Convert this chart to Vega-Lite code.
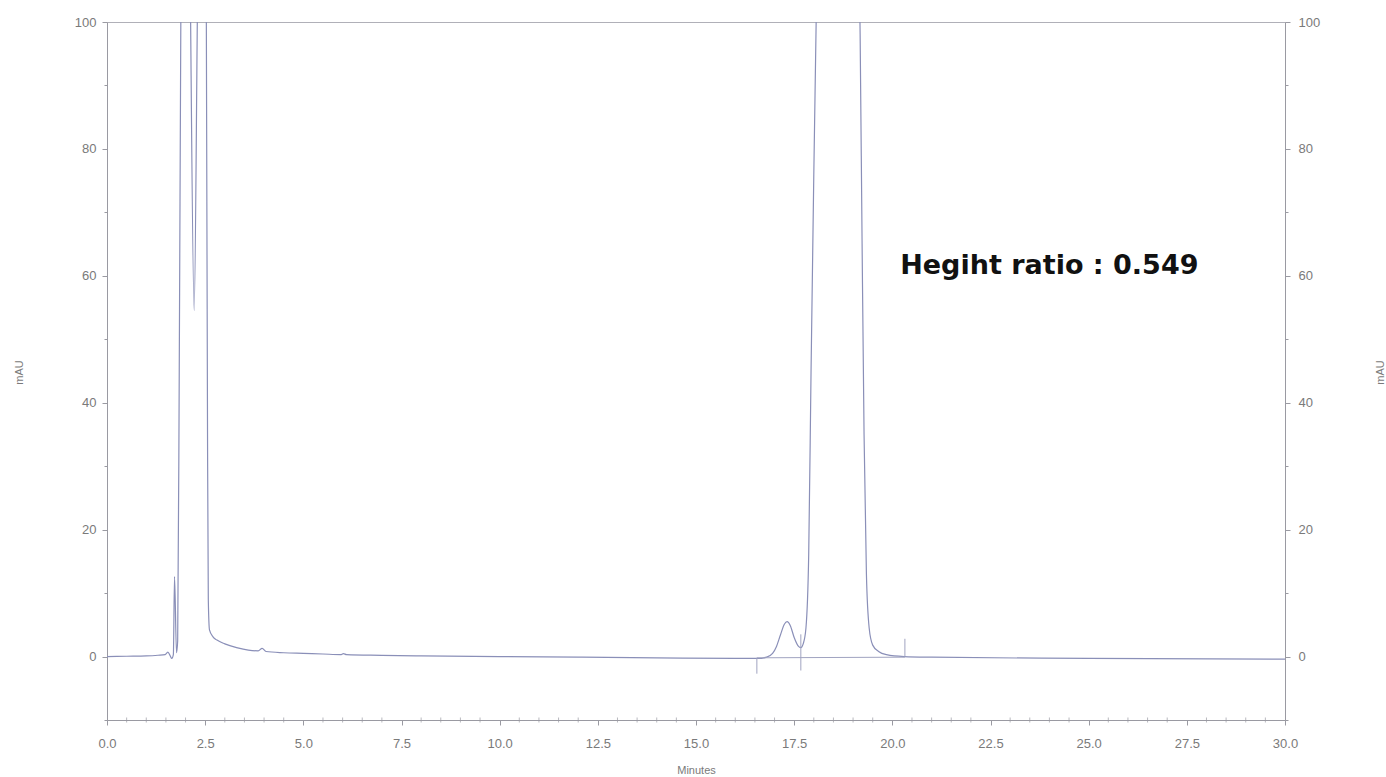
{
  "$schema": "https://vega.github.io/schema/vega-lite/v6.json",
  "width": 1178,
  "height": 698,
  "autosize": "none",
  "padding": {"left": 107, "top": 22, "right": 101, "bottom": 57},
  "background": "white",
  "config": {
    "view": {"stroke": "#b0b0b8", "strokeWidth": 1},
    "axis": {
      "domainColor": "#9a9aa2",
      "tickColor": "#9a9aa2",
      "labelColor": "#7a7a7a",
      "titleColor": "#7a7a7a",
      "labelFont": "Liberation Sans",
      "titleFont": "Liberation Sans",
      "labelFontSize": 13,
      "titleFontSize": 11,
      "titleFontWeight": "normal",
      "grid": false
    }
  },
  "datasets": {
    "trace": [
      {"t": 0.0, "v": 0.0}, {"t": 0.5, "v": 0.05}, {"t": 1.0, "v": 0.1}, {"t": 1.3, "v": 0.2},
      {"t": 1.48, "v": 0.3}, {"t": 1.55, "v": 0.7}, {"t": 1.61, "v": 0.1}, {"t": 1.65, "v": -0.3},
      {"t": 1.69, "v": 0.3}, {"t": 1.72, "v": 12.6}, {"t": 1.77, "v": 0.6}, {"t": 1.8, "v": 2.5},
      {"t": 1.84, "v": 45}, {"t": 1.88, "v": 100}, {"t": 1.92, "v": 140}, {"t": 2.08, "v": 140},
      {"t": 2.13, "v": 100}, {"t": 2.22, "v": 54.5}, {"t": 2.3, "v": 100}, {"t": 2.36, "v": 140},
      {"t": 2.48, "v": 140}, {"t": 2.53, "v": 100}, {"t": 2.56, "v": 35}, {"t": 2.58, "v": 9},
      {"t": 2.61, "v": 4.2}, {"t": 2.7, "v": 3.1}, {"t": 2.8, "v": 2.6}, {"t": 3.0, "v": 2.0},
      {"t": 3.3, "v": 1.4}, {"t": 3.6, "v": 1.0}, {"t": 3.85, "v": 0.9}, {"t": 3.95, "v": 1.3},
      {"t": 4.05, "v": 0.8}, {"t": 4.5, "v": 0.6}, {"t": 5.0, "v": 0.5}, {"t": 5.5, "v": 0.4},
      {"t": 5.95, "v": 0.3}, {"t": 6.02, "v": 0.45}, {"t": 6.1, "v": 0.3}, {"t": 7.0, "v": 0.2},
      {"t": 8.0, "v": 0.1}, {"t": 10.0, "v": 0.0}, {"t": 12.0, "v": -0.1}, {"t": 14.0, "v": -0.2},
      {"t": 16.0, "v": -0.3}, {"t": 16.6, "v": -0.3}, {"t": 16.8, "v": -0.1}, {"t": 16.95, "v": 0.5},
      {"t": 17.05, "v": 1.6}, {"t": 17.15, "v": 3.4}, {"t": 17.25, "v": 5.1}, {"t": 17.32, "v": 5.5},
      {"t": 17.4, "v": 4.9}, {"t": 17.5, "v": 3.0}, {"t": 17.6, "v": 1.7}, {"t": 17.67, "v": 1.4},
      {"t": 17.73, "v": 2.0}, {"t": 17.8, "v": 4.5}, {"t": 17.87, "v": 16}, {"t": 17.93, "v": 45},
      {"t": 18.0, "v": 76}, {"t": 18.06, "v": 100}, {"t": 18.14, "v": 135}, {"t": 18.3, "v": 150},
      {"t": 19.0, "v": 150}, {"t": 19.12, "v": 125}, {"t": 19.18, "v": 98}, {"t": 19.23, "v": 65},
      {"t": 19.28, "v": 35}, {"t": 19.34, "v": 13}, {"t": 19.41, "v": 4.5}, {"t": 19.5, "v": 1.8},
      {"t": 19.65, "v": 0.8}, {"t": 19.85, "v": 0.3}, {"t": 20.3, "v": 0.0}, {"t": 21.0, "v": -0.1},
      {"t": 25.0, "v": -0.3}, {"t": 30.0, "v": -0.4}
    ],
    "marks": [
      {"t": 16.55, "t2": 16.55, "lo": -0.2, "hi": -2.7},
      {"t": 17.67, "t2": 17.67, "lo": 3.5, "hi": -2.2},
      {"t": 20.32, "t2": 20.32, "lo": 0.0, "hi": 2.8},
      {"t": 16.55, "t2": 20.32, "lo": -0.2, "hi": -0.1}
    ],
    "minor": [
      {"t": 0.5}, {"t": 1.0}, {"t": 1.5}, {"t": 2.0}, {"t": 3.0}, {"t": 3.5}, {"t": 4.0}, {"t": 4.5},
      {"t": 5.5}, {"t": 6.0}, {"t": 6.5}, {"t": 7.0}, {"t": 8.0}, {"t": 8.5}, {"t": 9.0}, {"t": 9.5},
      {"t": 10.5}, {"t": 11.0}, {"t": 11.5}, {"t": 12.0}, {"t": 13.0}, {"t": 13.5}, {"t": 14.0}, {"t": 14.5},
      {"t": 15.5}, {"t": 16.0}, {"t": 16.5}, {"t": 17.0}, {"t": 18.0}, {"t": 18.5}, {"t": 19.0}, {"t": 19.5},
      {"t": 20.5}, {"t": 21.0}, {"t": 21.5}, {"t": 22.0}, {"t": 23.0}, {"t": 23.5}, {"t": 24.0}, {"t": 24.5},
      {"t": 25.5}, {"t": 26.0}, {"t": 26.5}, {"t": 27.0}, {"t": 28.0}, {"t": 28.5}, {"t": 29.0}, {"t": 29.5}
    ],
    "notes": [
      {"t": 20.2, "v": 61.6, "label": "Hegiht ratio : 0.549"}
    ]
  },
  "encoding": {
    "x": {
      "field": "t", "type": "quantitative",
      "scale": {"domain": [0, 30], "nice": false, "zero": false},
      "axis": {
        "title": "Minutes",
        "values": [0, 2.5, 5, 7.5, 10, 12.5, 15, 17.5, 20, 22.5, 25, 27.5, 30],
        "format": ".1f",
        "tickSize": 5,
        "labelPadding": 12,
        "labelFlush": false,
        "labelOverlap": false,
        "titleY": 44,
        "titleBaseline": "top"
      }
    }
  },
  "layer": [
    {
      "data": {"name": "trace"},
      "mark": {"type": "line", "color": "#8a8fb8", "strokeWidth": 1.2, "clip": true, "interpolate": "monotone"},
      "encoding": {
        "y": {
          "field": "v", "type": "quantitative",
          "scale": {"domain": [-10, 100], "nice": false, "zero": false},
          "axis": {
            "title": "mAU",
            "orient": "left",
            "values": [-10, 0, 10, 20, 30, 40, 50, 60, 70, 80, 90, 100],
            "labelExpr": "datum.value >= 0 && datum.value % 20 === 0 ? datum.value : ''",
            "tickSize": {"condition": {"test": "datum.value % 20 === 0", "value": 5}, "value": 3},
            "labelPadding": 6,
            "labelFlush": false,
            "labelOverlap": false,
            "titleX": -88,
            "titleY": 350,
            "titleAngle": 270,
            "titleAlign": "center",
            "titleBaseline": "middle"
          }
        }
      }
    },
    {
      "data": {"name": "marks"},
      "mark": {"type": "rule", "color": "#a0a3c0", "strokeWidth": 1},
      "encoding": {
        "x2": {"field": "t2"},
        "y": {"field": "lo", "type": "quantitative", "scale": {"domain": [-10, 100], "nice": false, "zero": false}, "axis": null},
        "y2": {"field": "hi"}
      }
    },
    {
      "data": {"name": "minor"},
      "mark": {"type": "tick", "orient": "vertical", "color": "#9a9aa2", "size": 5, "thickness": 1},
      "encoding": {
        "y": {"datum": -10, "type": "quantitative", "scale": {"domain": [-10, 100], "nice": false, "zero": false}, "axis": null}
      }
    },
    {
      "data": {"name": "notes"},
      "mark": {"type": "text", "align": "left", "baseline": "middle", "font": "DejaVu Sans", "fontWeight": "bold", "fontSize": 27, "color": "#111111"},
      "encoding": {
        "y": {
          "field": "v", "type": "quantitative",
          "scale": {"domain": [-10, 100], "nice": false, "zero": false},
          "axis": {
            "title": "mAU",
            "orient": "right",
            "values": [-10, 0, 10, 20, 30, 40, 50, 60, 70, 80, 90, 100],
            "labelExpr": "datum.value >= 0 && datum.value % 20 === 0 ? datum.value : ''",
            "tickSize": {"condition": {"test": "datum.value % 20 === 0", "value": 5}, "value": 3},
            "labelPadding": 8,
            "labelFlush": false,
            "labelOverlap": false,
            "titleX": 95,
            "titleY": 350,
            "titleAngle": 270,
            "titleAlign": "center",
            "titleBaseline": "middle"
          }
        },
        "text": {"field": "label"}
      }
    }
  ],
  "resolve": {"scale": {"y": "independent"}}
}
